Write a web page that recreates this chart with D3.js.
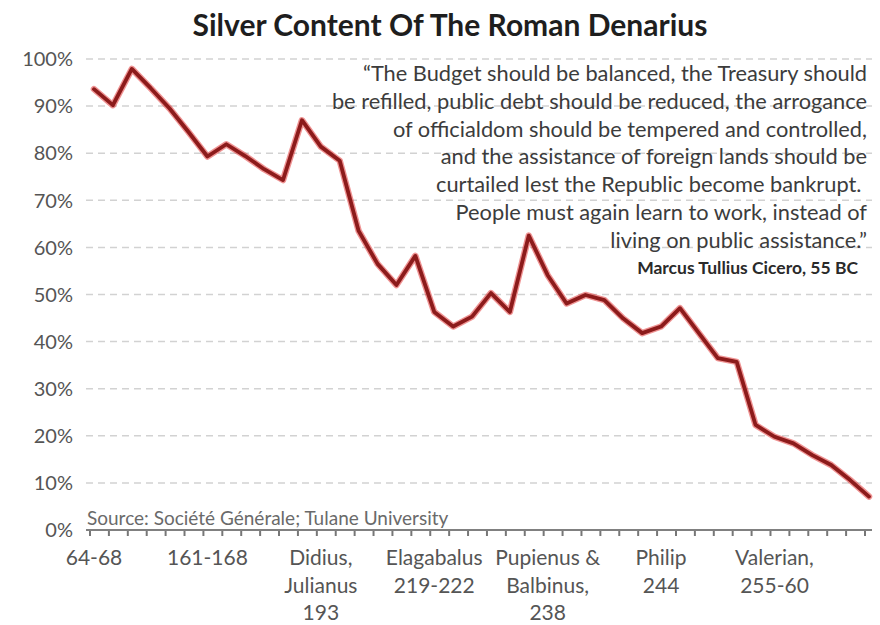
<!DOCTYPE html>
<html><head><meta charset="utf-8">
<script src="https://cdn.jsdelivr.net/npm/d3@7"></script>
<style>
body{margin:0;background:#fff;}
svg{display:block;font-family:Lato,"Open Sans",sans-serif;}
</style>
</head><body>
<svg id="chart" width="880" height="625"></svg>
<script>
// ---- data ----
const silver = [93.6, 90.2, 97.9, 93.8, 89.5, 84.5, 79.3, 81.9, 79.4, 76.6,
                74.3, 87.0, 81.4, 78.4, 63.5, 56.5, 52.0, 58.2, 46.3, 43.2,
                45.3, 50.3, 46.3, 62.5, 54.1, 48.1, 49.9, 48.8, 44.9, 41.8,
                43.2, 47.1, 41.8, 36.5, 35.7, 22.3, 19.8, 18.4, 15.9, 13.8,
                10.6, 7.1];
const categories = silver.map((_, i) => i);
const tickLabels = [["64-68"], ["161-168"], ["Didius,", "Julianus", "193"],
                    ["Elagabalus", "219-222"], ["Pupienus &", "Balbinus,", "238"],
                    ["Philip", "244"], ["Valerian,", "255-60"]];
const labelEvery = 6;
const yTicks = [0, 10, 20, 30, 40, 50, 60, 70, 80, 90, 100];
const title = "Silver Content Of The Roman Denarius";
const quoteLines = ["\u201CThe Budget should be balanced, the Treasury should",
                    "be refilled, public debt should be reduced, the arrogance",
                    "of officialdom should be tempered and controlled,",
                    "and the assistance of foreign lands should be",
                    "curtailed lest the Republic become bankrupt.\u00A0",
                    "People must again learn to work, instead of",
                    "living on public assistance.\u201D"];
const quoteAuthor = "Marcus Tullius Cicero, 55 BC";
const source = "Source: Soci\u00E9t\u00E9 G\u00E9n\u00E9rale; Tulane University";

// ---- layout ----
const svg = d3.select("#chart");
const axisY = 530, plotLeft = 86, plotRight = 872;
const x = d3.scalePoint().domain(categories).range([94, 869]);
const y = d3.scaleLinear().domain([0, 100]).range([axisY, 59]);

// gridlines
svg.append("g").selectAll("line").data(yTicks.filter(d => d > 0)).join("line")
  .attr("x1", plotLeft).attr("x2", plotRight)
  .attr("y1", d => y(d)).attr("y2", d => y(d))
  .attr("stroke", "#d2d2d2").attr("stroke-width", 1.5)
  .attr("stroke-dasharray", "7,5");

// y labels
svg.append("g").selectAll("text").data(yTicks).join("text")
  .attr("x", 73).attr("y", d => y(d)).attr("dy", "0.36em")
  .attr("text-anchor", "end").attr("font-size", 20).attr("fill", "#555")
  .text(d => d + "%");

// title
svg.append("text").attr("x", 450).attr("y", 36).attr("text-anchor", "middle")
  .attr("font-size", 30).attr("font-weight", 700).attr("fill", "#1e1e1e")
  .text(title);

// quote
const qRight = 867;
svg.append("g").selectAll("text").data(quoteLines).join("text")
  .attr("x", qRight).attr("y", (d, i) => 81 + i * 27.8)
  .attr("text-anchor", "end").attr("font-size", 21.8).attr("fill", "#3c3c3c")
  .style("white-space", "pre")
  .text(d => d);
svg.append("text").attr("x", qRight - 9).attr("y", 274)
  .attr("text-anchor", "end").attr("font-size", 17.5).attr("font-weight", 700)
  .attr("fill", "#2a2a2a").text(quoteAuthor);

// source
svg.append("text").attr("x", 87).attr("y", 525).attr("font-size", 19)
  .attr("fill", "#6a6a6a").text(source);

// x axis
const xAxis = d3.axisBottom(x).tickValues(categories).tickSize(6).tickFormat("");
const gx = svg.append("g").attr("transform", `translate(-4.5,${axisY})`).call(xAxis);
gx.select(".domain").remove();
gx.selectAll(".tick line").attr("stroke", "#777").attr("stroke-width", 2);
svg.append("line").attr("x1", plotLeft).attr("x2", plotRight)
  .attr("y1", axisY).attr("y2", axisY).attr("stroke", "#808080").attr("stroke-width", 2.2);

// x labels
const lab = svg.append("g").selectAll("text")
  .data(categories.filter(i => i % labelEvery === 0 && tickLabels[i / labelEvery]))
  .join("text")
  .attr("x", d => x(d)).attr("y", 565).attr("text-anchor", "middle")
  .attr("font-size", 21).attr("fill", "#555");
lab.selectAll("tspan").data(d => tickLabels[d / labelEvery]).join("tspan")
  .attr("x", function() { return this.parentNode.getAttribute("x"); })
  .attr("dy", (d, i) => i === 0 ? 0 : 27.5).text(d => d);

// line
const line = d3.line().x((d, i) => x(categories[i])).y(d => y(d)).curve(d3.curveLinear);
svg.append("path").datum(silver).attr("d", line).attr("fill", "none")
  .attr("stroke", "#e23a3a").attr("stroke-opacity", 0.55).attr("stroke-width", 6.5)
  .attr("stroke-linejoin", "round").attr("stroke-linecap", "round");
svg.append("path").datum(silver).attr("d", line).attr("fill", "none")
  .attr("stroke", "#8c1b1b").attr("stroke-width", 3.8)
  .attr("stroke-linejoin", "round").attr("stroke-linecap", "round");
</script>
</body></html>
